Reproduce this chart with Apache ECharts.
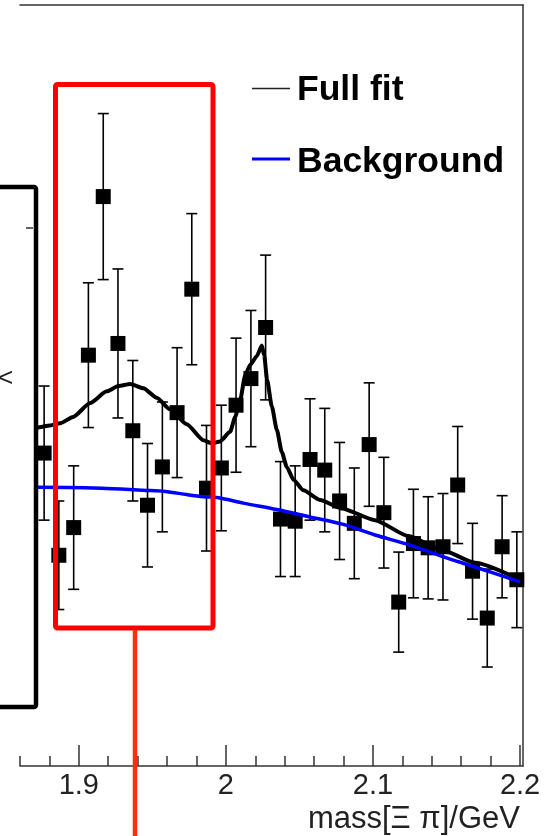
<!DOCTYPE html>
<html>
<head>
<meta charset="utf-8">
<script src="https://cdn.jsdelivr.net/npm/echarts@6/dist/echarts.min.js"></script>
<style>
  html, body { margin: 0; padding: 0; background: #fff; }
  #chart { width: 550px; height: 836px; }
</style>
</head>
<body>
<div id="chart"></div>
<script>
// Invariant-mass spectrum: binned counts with errors, full fit and background.
const binCenters = [1.8764, 1.8864, 1.8965, 1.9065, 1.9166, 1.9266, 1.9367, 1.9467, 1.9568, 1.9668,
                    1.9768, 1.9868, 1.9969, 2.0069, 2.0170, 2.0270, 2.0371, 2.0471, 2.0572, 2.0672,
                    2.0773, 2.0873, 2.0974, 2.1074, 2.1175, 2.1275, 2.1375, 2.1476, 2.1576, 2.1677,
                    2.1777, 2.1878, 2.1978];
const counts = [36.4, 26.8, 29.4, 45.6, 60.5, 46.7, 38.5, 31.5, 35.1, 40.2,
                51.8, 33.1, 35.0, 40.9, 43.4, 48.2, 30.2, 30.0, 35.8, 34.8,
                31.9, 29.8, 37.2, 30.8, 22.4, 27.9, 27.5, 27.6, 33.4, 25.3,
                20.9, 27.6, 24.5];
const countErrors = [6.3, 5.1, 5.8, 6.8, 7.8, 7.0, 6.6, 5.8, 6.1, 6.1,
                     7.1, 5.9, 5.9, 6.3, 6.4, 6.8, 5.4, 5.2, 5.7, 5.8,
                     5.5, 5.2, 5.8, 5.2, 4.7, 5.1, 4.8, 5.0, 5.5, 4.5,
                     4.6, 4.8, 4.5];

const fullFitX = [1.8608, 1.8717, 1.8805, 1.8873, 1.8961, 1.9077, 1.9190, 1.9269, 1.9349, 1.9439,
                  1.9530, 1.9621, 1.9734, 1.9847, 1.9906, 1.9960, 2.0029, 2.0063, 2.0097, 2.0131,
                  2.0165, 2.0210, 2.0244, 2.0260, 2.0280, 2.0312, 2.0346, 2.0380, 2.0414, 2.0459,
                  2.0527, 2.0640, 2.0788, 2.1014, 2.1241, 2.1468, 2.1694, 2.2000];
const fullFitY = [38.6, 38.8, 39.0, 39.2, 39.8, 41.1, 42.2, 42.7, 42.9, 42.5,
                  41.6, 40.5, 39.1, 37.6, 37.3, 37.5, 38.4, 39.8, 41.4, 43.7,
                  44.7, 45.5, 46.5, 45.6, 43.3, 40.8, 38.6, 36.5, 35.1, 33.9,
                  32.9, 32.0, 31.2, 30.1, 28.6, 27.3, 26.1, 24.5];

const backgroundX = [1.8608, 1.8717, 1.9156, 1.9439, 1.9587, 1.9734, 1.9847, 1.9949, 2.0119,
                     2.0346, 2.0572, 2.0799, 2.1014, 2.1241, 2.1468, 2.1694, 2.2000];
const backgroundY = [33.2, 33.2, 33.1, 32.9, 32.8, 32.5, 32.3, 32.2, 31.7,
                     31.1, 30.4, 29.7, 28.7, 27.8, 26.7, 25.7, 24.3];

const majorTicks = [1.9, 2.0, 2.1, 2.2];
const majorTickLabels = ['1.9', '2', '2.1', '2.2'];
const minorTicks = [1.86, 1.88, 1.92, 1.94, 1.96, 1.98, 2.02, 2.04, 2.06, 2.08, 2.12, 2.14, 2.16, 2.18];
const seriesNames = ['Full fit', 'Background'];
const xTitle = 'mass[\u039E \u03C0]/GeV';

const X_MIN = 1.86, X_MAX = 2.202, Y_MIN = 7, Y_MAX = 78.5;
const FONT = '"Liberation Sans", Arial, Helvetica, sans-serif';
const FRAME = '#333';

const points = binCenters.map((x, i) => [x, counts[i], countErrors[i]]);
const fullFit = fullFitX.map((x, i) => [x, fullFitY[i]]);
const background = backgroundX.map((x, i) => [x, backgroundY[i]]);

const chart = echarts.init(document.getElementById('chart'), null, { renderer: 'canvas' });

chart.setOption({
  animation: false,
  backgroundColor: '#fff',
  grid: { left: 20, top: 5, right: 27, bottom: 70 },
  xAxis: [
    {
      type: 'value', min: X_MIN, max: X_MAX, position: 'bottom',
      axisLine: { show: true, onZero: false, lineStyle: { color: FRAME, width: 1.5 } },
      axisTick: { show: true, inside: true, length: 21, customValues: majorTicks,
                  lineStyle: { color: FRAME, width: 1.5 } },
      axisLabel: {
        show: true, customValues: majorTicks, margin: 5,
        color: '#222', fontSize: 29, fontFamily: FONT,
        formatter: function (v) {
          const i = majorTicks.findIndex(t => Math.abs(t - v) < 1e-9);
          return i >= 0 ? majorTickLabels[i] : '';
        }
      },
      splitLine: { show: false },
      name: xTitle, nameLocation: 'end', nameGap: -3,
      nameTextStyle: { fontSize: 31, fontFamily: FONT, color: '#222',
                       align: 'right', verticalAlign: 'top', padding: [38, 0, 0, 0] }
    },
    {
      type: 'value', min: X_MIN, max: X_MAX, position: 'bottom',
      axisLine: { show: false, onZero: false },
      axisTick: { show: true, inside: true, length: 10, customValues: minorTicks,
                  lineStyle: { color: FRAME, width: 1.5 } },
      axisLabel: { show: false },
      splitLine: { show: false }
    },
    {
      type: 'value', min: X_MIN, max: X_MAX, position: 'top',
      axisLine: { show: true, onZero: false, lineStyle: { color: FRAME, width: 1.5 } },
      axisTick: { show: false }, axisLabel: { show: false }, splitLine: { show: false }
    }
  ],
  yAxis: [
    {
      type: 'value', min: Y_MIN, max: Y_MAX, position: 'left',
      axisLine: { show: false }, axisTick: { show: false },
      axisLabel: { show: false }, splitLine: { show: false }
    },
    {
      type: 'value', min: Y_MIN, max: Y_MAX, position: 'right',
      axisLine: { show: true, onZero: false, lineStyle: { color: FRAME, width: 1.5 } },
      axisTick: { show: false }, axisLabel: { show: false }, splitLine: { show: false }
    }
  ],
  series: [
    {
      name: 'errors', type: 'custom', xAxisIndex: 0, yAxisIndex: 0, z: 2,
      data: points, encode: { x: 0, y: 1 },
      renderItem: function (params, api) {
        const x = api.value(0), y = api.value(1), e = api.value(2);
        const hi = api.coord([x, y + e]);
        const lo = api.coord([x, y - e]);
        const cap = 5.5;
        const st = { stroke: '#000', lineWidth: 1.6 };
        return {
          type: 'group',
          children: [
            { type: 'line', shape: { x1: hi[0], y1: hi[1], x2: lo[0], y2: lo[1] }, style: st },
            { type: 'line', shape: { x1: hi[0] - cap, y1: hi[1], x2: hi[0] + cap, y2: hi[1] }, style: st },
            { type: 'line', shape: { x1: lo[0] - cap, y1: lo[1], x2: lo[0] + cap, y2: lo[1] }, style: st }
          ]
        };
      }
    },
    {
      name: 'data', type: 'scatter', xAxisIndex: 0, yAxisIndex: 0, z: 3,
      symbol: 'rect', symbolSize: 15,
      itemStyle: { color: '#000', opacity: 1 },
      data: points.map(p => [p[0], p[1]])
    },
    {
      name: seriesNames[0], type: 'line', xAxisIndex: 0, yAxisIndex: 0, z: 4,
      data: fullFit, showSymbol: false, smooth: 0.2, smoothMonotone: 'x',
      lineStyle: { color: '#000', width: 4 }
    },
    {
      name: seriesNames[1], type: 'line', xAxisIndex: 0, yAxisIndex: 0, z: 5,
      data: background, showSymbol: false, smooth: 0.3,
      lineStyle: { color: '#0000ff', width: 3.5 }
    }
  ],
  graphic: [
    // legend
    { type: 'line', z: 50, shape: { x1: 252, y1: 88.5, x2: 290, y2: 88.5 },
      style: { stroke: '#222', lineWidth: 1.5 } },
    { type: 'text', z: 50, x: 297, y: 90,
      style: { text: seriesNames[0], font: 'bold 35.5px ' + FONT, fill: '#000',
               align: 'left', verticalAlign: 'middle' } },
    { type: 'line', z: 50, shape: { x1: 252, y1: 159, x2: 290, y2: 159 },
      style: { stroke: '#0000ff', lineWidth: 3 } },
    { type: 'text', z: 50, x: 297, y: 162.5,
      style: { text: seriesNames[1], font: 'bold 35.5px ' + FONT, fill: '#000',
               align: 'left', verticalAlign: 'middle' } },
    // highlighted mass window and its pointer
    { type: 'rect', z: 60, shape: { x: 55.5, y: 84.5, width: 157.5, height: 543.5, r: 2 },
      style: { fill: 'none', stroke: '#ff0000', lineWidth: 5 } },
    { type: 'line', z: 60, shape: { x1: 135, y1: 630, x2: 135, y2: 840 },
      style: { stroke: '#ff2d14', lineWidth: 4.5 } },
    // side panel
    { type: 'rect', z: 70, shape: { x: -10, y: 187, width: 46, height: 520, r: 2 },
      style: { fill: '#fff', stroke: '#000', lineWidth: 4.5 } },
    { type: 'line', z: 71, shape: { x1: 26, y1: 228, x2: 33, y2: 228 },
      style: { stroke: FRAME, lineWidth: 1.5 } },
    { type: 'text', z: 71, x: -2, y: 379,
      style: { text: '<', font: '26px ' + FONT, fill: '#222',
               align: 'left', verticalAlign: 'middle' } }
  ]
});
</script>
</body>
</html>
